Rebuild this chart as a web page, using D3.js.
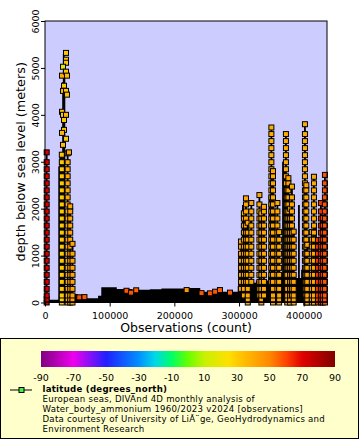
<!DOCTYPE html>
<html><head><meta charset="utf-8">
<script src="https://cdn.jsdelivr.net/npm/d3@7"></script>
<style>body{margin:0;background:#fff} svg{display:block} text{font-family:"DejaVu Sans",sans-serif;fill:#000}</style>
</head><body><svg id="c" width="360" height="440"></svg>
<script>
// ---------- data ----------
const xTicks = [0, 100000, 200000, 300000, 400000];
const yTicks = [0, 1000, 2000, 3000, 4000, 5000, 6000];
const cbTicks = [-90, -70, -50, -30, -10, 10, 30, 50, 70, 90];
const paletteStops  = [-90, -70, -50, -30, -20, -10, 0, 10, 25, 30, 50, 60, 70, 90];
const paletteColors = ["#800080", "#ee00ee", "#2020ff", "#0090ff", "#00d8e8", "#00ff66", "#66ff00", "#c8f000", "#ffe000", "#ffcc00", "#ff8800", "#ff4400", "#e00000", "#800000"];

// depth levels of stacked markers (m)
const levels = [0, 70, 150, 290, 440, 590, 740, 890, 1040, 1190, 1340, 1490, 1640, 1790, 1940, 2090,
  2240, 2390, 2540, 2690, 2840, 2990, 3140, 3290, 3440, 3590, 3740];

// dense black band of overlapping profiles (observation index, deepest depth)
const floorObs   = [0, 3500, 22500, 43000, 46000, 51000, 82000, 87000, 111000, 135000, 162000, 180000, 216000, 240000, 298000, 303000, 312000, 326000, 345000, 366000, 388000, 396000, 410000, 425000, 435500];
const floorDepth = [60, 60, 300, 180, 180, 90, 145, 325, 290, 270, 285, 300, 310, 230, 350, 520, 420, 470, 560, 620, 520, 700, 560, 700, 700];

// profiles seen only as black line
const traceObs   = [22000, 23500, 28000, 29000, 30000, 300000, 306000, 347000, 355000, 368000, 370500, 392600, 419000];
const traceDepth = [2900, 3100, 4700, 5300, 5100, 1100, 2080, 2300, 1900, 3000, 2800, 2080, 1600];

// profiles with visible stacked markers
const profObs = [2600, 26000, 35000, 39000, 42500,
  303000, 307500, 310700, 313500, 319000, 331500, 334500, 338500, 350000, 352500, 359300, 362000,
  372500, 374500, 376300, 379000, 381800, 384500, 401900, 404000, 405500, 412500, 415800, 422000, 426600, 429500, 432800];
const profLat = [71, 31, 40, 41, 42,
  42, 41, 41, 40, 40, 41, 42, 40, 39, 41, 41, 40,
  40, 41, 42, 41, 40, 41, 39, 41, 41, 40, 40, 62, 63, 60, 58];
const profMin = [0, 0, 0, 0, 0,
  200, 100, 300, 0, 350, 150, 0, 150, 300, 0, 250, 0,
  500, 0, 600, 0, 100, 0, 100, 0, 0, 0, 0, 0, 0, 0, 0];
const profMax = [3200, 3150, 3180, 2050, 1250,
  1300, 1900, 2220, 1700, 2120, 2290, 1900, 2040, 3730, 2800, 2120, 1500,
  3590, 2400, 2650, 2000, 2470, 1510, 3800, 2500, 1230, 1500, 2680, 1330, 2120, 1800, 2720];

// isolated visible markers
const dotObs   = [32460, 32460, 32460, 27820, 26275, 32460, 34000, 29370, 27820, 32460, 34000, 26275, 27820, 32460, 29370, 29370, 26275, 32460, 27820, 37100,
  53000, 61000, 126000, 133000, 141000, 219000, 242000, 255000, 263000, 270500, 286000];
const dotLat   = [31, 31, 32, 18, 40, 33, 36, 31, 38, 32, 34, 35, 31, 37, 32, 33, 36, 31, 34, 40,
  58, 57, 57, 58, 56, 45, 57, 58, 57, 56, 57];
const dotDepth = [5320, 5175, 5110, 5025, 4835, 4920, 4835, 4620, 4510, 4510, 4430, 4065, 4000, 4000, 3890, 3680, 3615, 3490, 3360, 3200,
  110, 115, 250, 210, 260, 265, 200, 195, 230, 265, 210];

const legendTitle = "latitude (degrees_north)";
const legendLines = ["European seas, DIVAnd 4D monthly analysis of",
  "Water_body_ammonium 1960/2023 v2024 [observations]",
  "Data courtesy of University of Li\u00c3\u00a8ge, GeoHydrodynamics and",
  "Environment Research"];

// ---------- drawing ----------
const svg = d3.select("#c");
const x = d3.scaleLinear().domain([0, 436000]).range([45, 327]);
const y = d3.scaleLinear().domain([0, 6000]).range([302.5, 21]);
const color = d3.scaleLinear().domain(paletteStops).range(paletteColors).clamp(true);
const [x0, x1] = x.range(), [y0, y1] = y.range();

svg.append("rect").attr("x", x0).attr("y", y1).attr("width", x1 - x0).attr("height", y0 - y1).attr("fill", "#ccccff");

const g = svg.append("g");
g.append("path")
  .datum(floorObs.map((o, i) => ({o, d: floorDepth[i]})))
  .attr("d", d3.area().x(d => x(d.o)).y0(y(0)).y1(d => y(d.d)).curve(d3.curveStepAfter))
  .attr("fill", "#000");

g.selectAll("line.tr").data(traceObs).join("line")
  .attr("x1", d => x(d)).attr("x2", d => x(d))
  .attr("y1", y(0)).attr("y2", (d, i) => y(traceDepth[i]))
  .attr("stroke", "#000").attr("stroke-width", 1.8);

const ms = 5;
function marker(sel, cx, cy, c) {
  sel.append("rect").attr("x", cx - ms / 2).attr("y", cy - ms / 2).attr("width", ms).attr("height", ms)
    .attr("fill", c).attr("stroke", "#000").attr("stroke-width", 1);
}

profObs.forEach((o, i) => {
  const pg = g.append("g");
  pg.append("line").attr("x1", x(o)).attr("x2", x(o)).attr("y1", y(0)).attr("y2", y(profMax[i]))
    .attr("stroke", "#000").attr("stroke-width", 1.8);
  const ds = levels.filter(d => d >= profMin[i] && d < profMax[i] - 80).concat([profMax[i]]);
  ds.forEach(d => marker(pg, x(o), y(d), color(profLat[i])));
});

dotObs.forEach((o, i) => marker(g, x(o), y(dotDepth[i]), color(dotLat[i])));

svg.append("rect").attr("x", x0).attr("y", y1).attr("width", x1 - x0).attr("height", y0 - y1)
  .attr("fill", "none").attr("stroke", "#000").attr("stroke-width", 1);

// x axis
const xa = svg.append("g").attr("transform", `translate(0,${y0})`);
xa.call(d3.axisBottom(x).tickValues(d3.range(0, 436000, 20000)).tickSize(4).tickFormat(""));
xa.call(d3.axisBottom(x).tickValues(xTicks).tickSize(4).tickFormat(d3.format("d")));
xa.selectAll(".domain").remove();
xa.selectAll("text").attr("font-size", 9.5).attr("dy", "0.95em").style("font-family", "DejaVu Sans");
xa.selectAll("line").attr("stroke", "#000");

// y axis
const ya = svg.append("g").attr("transform", `translate(${x0},0)`);
ya.call(d3.axisLeft(y).tickValues(d3.range(0, 6001, 200)).tickSize(4).tickFormat(""));
ya.call(d3.axisLeft(y).tickValues(yTicks).tickSize(4).tickFormat(d3.format("d")));
ya.selectAll(".domain").remove();
ya.selectAll("line").attr("stroke", "#000");
ya.selectAll("text")
  .attr("font-size", 9.5).style("font-family", "DejaVu Sans")
  .attr("x", null).attr("dy", null)
  .attr("text-anchor", "middle")
  .attr("transform", "translate(-6,0) rotate(-90)");

// axis titles
svg.append("text").attr("x", (x0 + x1) / 2).attr("y", 332).attr("text-anchor", "middle")
  .attr("font-size", 12.5).text("Observations (count)");
svg.append("text").attr("transform", `translate(25,${(y0 + y1) / 2}) rotate(-90)`).attr("text-anchor", "middle")
  .attr("font-size", 12.8).text("depth below sea level (meters)");

// legend box
svg.append("rect").attr("x", 0.5).attr("y", 338.5).attr("width", 358).attr("height", 100)
  .attr("fill", "#ffffcc").attr("stroke", "#000");

const cb = d3.scaleLinear().domain([-90, 90]).range([41, 335]);
const grad = svg.append("defs").append("linearGradient").attr("id", "gr");
grad.selectAll("stop").data(paletteStops).join("stop")
  .attr("offset", d => (d + 90) / 180).attr("stop-color", (d, i) => paletteColors[i]);
svg.append("rect").attr("x", cb.range()[0]).attr("y", 351).attr("width", cb.range()[1] - cb.range()[0]).attr("height", 16)
  .attr("fill", "url(#gr)");
svg.selectAll("text.cb").data(cbTicks).join("text").attr("class", "cb")
  .attr("x", d => cb(d)).attr("y", 380.5).attr("text-anchor", "middle").attr("font-size", 9.5)
  .text(d => d);

svg.append("line").attr("x1", 10).attr("x2", 32).attr("y1", 390).attr("y2", 390).attr("stroke", "#000");
marker(svg, 21.5, 390, "#44ee44");
svg.append("text").attr("x", 42.5).attr("y", 392).attr("font-size", 8.6).attr("letter-spacing", 0.25)
  .attr("font-weight", "bold").text(legendTitle);
svg.selectAll("text.lg").data(legendLines).join("text").attr("class", "lg")
  .attr("x", 42.5).attr("y", (d, i) => 402 + i * 10).attr("font-size", 8.6).attr("letter-spacing", 0.25).text(d => d);
</script></body></html>
